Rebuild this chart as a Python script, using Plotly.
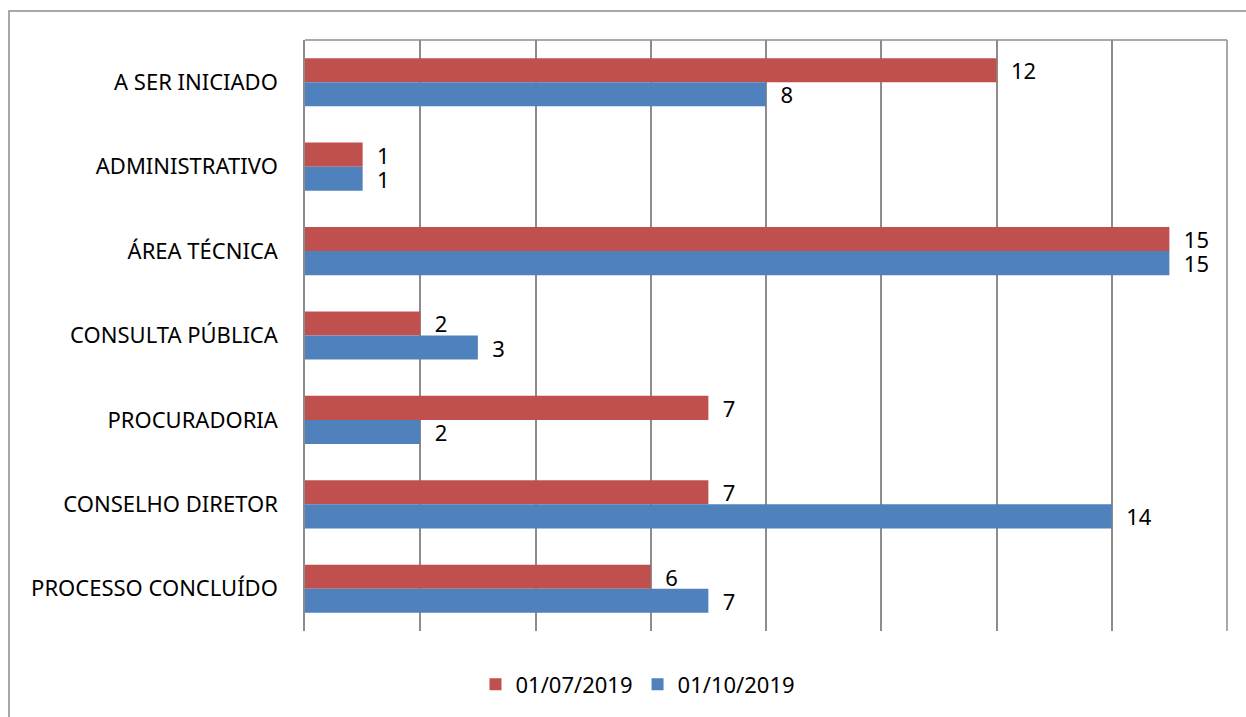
import plotly.graph_objects as go

categories = ["A SER INICIADO", "ADMINISTRATIVO", "ÁREA TÉCNICA", "CONSULTA PÚBLICA",
              "PROCURADORIA", "CONSELHO DIRETOR", "PROCESSO CONCLUÍDO"]
series_jul = [12, 1, 15, 2, 7, 7, 6]
series_out = [8, 1, 15, 3, 2, 14, 7]
series_names = ["01/07/2019", "01/10/2019"]
x_ticks = [0, 2, 4, 6, 8, 10, 12, 14, 16]

FONT = "Noto Sans"
FS = 22
W, H = 1246, 717
L, R, T, B = 305, 19, 40, 86

fig = go.Figure()
fig.add_trace(go.Bar(
    y=categories, x=series_jul, name=series_names[0], orientation="h",
    marker=dict(color="#C0504D", line=dict(width=0)),
    text=series_jul, texttemplate="  %{x}", textposition="outside",
    constraintext="none",
    textfont=dict(family=FONT, size=FS, color="#000000"), cliponaxis=False,
))
fig.add_trace(go.Bar(
    y=categories, x=series_out, name=series_names[1], orientation="h",
    marker=dict(color="#4F81BD", line=dict(width=0)),
    text=series_out, texttemplate="  %{x}", textposition="outside",
    constraintext="none",
    textfont=dict(family=FONT, size=FS, color="#000000"), cliponaxis=False,
))

def px_x(p):
    return (p - L) / (W - L - R)

def px_y(p):
    return 1 - (p - T) / (H - T - B)

fig.update_layout(
    width=W, height=H,
    margin=dict(l=L, r=R, t=T, b=B, pad=0, autoexpand=False),
    paper_bgcolor="white", plot_bgcolor="white",
    barmode="group", bargap=0.43, bargroupgap=0,
    font=dict(family=FONT, size=FS, color="#000000"),
    showlegend=True,
    legend=dict(orientation="h", x=px_x(638), xanchor="center",
                y=-0.055, yanchor="top",
                font=dict(family=FONT, size=FS, color="#000000"),
                itemsizing="constant", traceorder="normal"),
    xaxis=dict(range=[0, 16], tickvals=x_ticks, showticklabels=False,
               showgrid=True, gridcolor="#8C8C8C", gridwidth=1.5,
               zeroline=False, showline=False, ticks=""),
    yaxis=dict(autorange="reversed", showgrid=False, zeroline=False,
               showline=True, linecolor="#8C8C8C", linewidth=1.5,
               ticks="", ticklabelstandoff=21,
               tickfont=dict(family=FONT, size=FS, color="#000000")),
    shapes=[
        dict(type="line", xref="paper", yref="paper", x0=0, x1=1, y0=1, y1=1,
             line=dict(color="#8C8C8C", width=1.5)),
        dict(type="line", xref="paper", yref="paper", x0=1, x1=1, y0=0, y1=1,
             line=dict(color="#8C8C8C", width=1.5)),
        dict(type="rect", xref="paper", yref="paper",
             x0=px_x(9), x1=px_x(1260), y0=px_y(11), y1=px_y(730),
             line=dict(color="#8C8C8C", width=1.5), layer="below"),
    ],
)

fig.write_html("out.html", config={"displayModeBar": False},
               post_script="document.body.style.margin='0';document.body.style.overflow='hidden';")
